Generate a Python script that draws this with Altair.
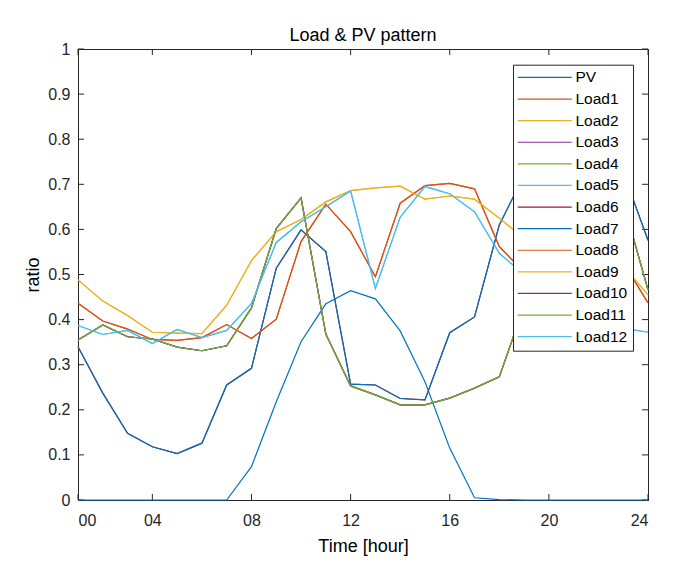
import altair as alt
import pandas as pd

# ---------------- data ----------------
hours = list(range(1, 25))

pv = [0, 0, 0, 0, 0, 0, 0, 0.074, 0.218, 0.351, 0.435, 0.464,
      0.446, 0.375, 0.262, 0.115, 0.005, 0.001, 0, 0, 0, 0, 0, 0]
load1 = [0.436, 0.397, 0.379, 0.356, 0.354, 0.360, 0.389, 0.358, 0.401, 0.573, 0.656, 0.595,
         0.495, 0.658, 0.697, 0.702, 0.690, 0.562, 0.505, 0.515, 0.525, 0.530, 0.527, 0.437]
load2 = [0.488, 0.441, 0.409, 0.372, 0.370, 0.369, 0.432, 0.531, 0.595, 0.622, 0.661, 0.686,
         0.692, 0.696, 0.667, 0.674, 0.667, 0.625, 0.580, 0.555, 0.545, 0.530, 0.519, 0.455]
load3 = [0.355, 0.388, 0.362, 0.357, 0.339, 0.331, 0.342, 0.426, 0.602, 0.670, 0.368, 0.253,
         0.233, 0.211, 0.211, 0.226, 0.248, 0.273, 0.430, 0.560, 0.630, 0.665, 0.661, 0.466]
load4 = [0.355, 0.388, 0.362, 0.357, 0.339, 0.331, 0.342, 0.426, 0.602, 0.670, 0.368, 0.253,
         0.233, 0.211, 0.211, 0.226, 0.248, 0.273, 0.430, 0.560, 0.630, 0.665, 0.661, 0.466]
load5 = [0.387, 0.367, 0.376, 0.347, 0.378, 0.360, 0.376, 0.436, 0.571, 0.617, 0.650, 0.685,
         0.469, 0.627, 0.695, 0.679, 0.639, 0.547, 0.500, 0.460, 0.425, 0.400, 0.381, 0.372]
load6 = [0.340, 0.237, 0.148, 0.118, 0.103, 0.126, 0.255, 0.292, 0.514, 0.599, 0.551, 0.257,
         0.255, 0.225, 0.222, 0.371, 0.406, 0.610, 0.720, 0.750, 0.760, 0.750, 0.727, 0.576]
load7 = [0.340, 0.237, 0.148, 0.118, 0.103, 0.126, 0.255, 0.292, 0.514, 0.599, 0.551, 0.257,
         0.255, 0.225, 0.222, 0.371, 0.406, 0.610, 0.720, 0.750, 0.760, 0.750, 0.727, 0.576]
load8 = [0.436, 0.397, 0.379, 0.356, 0.354, 0.360, 0.389, 0.358, 0.401, 0.573, 0.656, 0.595,
         0.495, 0.658, 0.697, 0.702, 0.690, 0.562, 0.505, 0.515, 0.525, 0.530, 0.527, 0.437]
load9 = [0.488, 0.441, 0.409, 0.372, 0.370, 0.369, 0.432, 0.531, 0.595, 0.622, 0.661, 0.686,
         0.692, 0.696, 0.667, 0.674, 0.667, 0.625, 0.580, 0.555, 0.545, 0.530, 0.519, 0.455]
load10 = [0.355, 0.388, 0.362, 0.357, 0.339, 0.331, 0.342, 0.426, 0.602, 0.670, 0.368, 0.253,
          0.233, 0.211, 0.211, 0.226, 0.248, 0.273, 0.430, 0.560, 0.630, 0.665, 0.661, 0.466]
load11 = [0.355, 0.388, 0.362, 0.357, 0.339, 0.331, 0.342, 0.426, 0.602, 0.670, 0.368, 0.253,
          0.233, 0.211, 0.211, 0.226, 0.248, 0.273, 0.430, 0.560, 0.630, 0.665, 0.661, 0.466]
load12 = [0.387, 0.367, 0.376, 0.347, 0.378, 0.360, 0.376, 0.436, 0.571, 0.617, 0.650, 0.685,
          0.469, 0.627, 0.695, 0.679, 0.639, 0.547, 0.500, 0.460, 0.425, 0.400, 0.381, 0.372]

series_names = ["PV", "Load1", "Load2", "Load3", "Load4", "Load5", "Load6",
                "Load7", "Load8", "Load9", "Load10", "Load11", "Load12"]
series_values = [pv, load1, load2, load3, load4, load5, load6,
                 load7, load8, load9, load10, load11, load12]

x_tick_values = [1, 4, 8, 12, 16, 20, 24]
x_tick_labels = ["00", "04", "08", "12", "16", "20", "24"]
y_tick_values = [0, 0.1, 0.2, 0.3, 0.4, 0.5, 0.6, 0.7, 0.8, 0.9, 1]

# ---------------- styles ----------------
colors = ["#0072BD", "#D95319", "#EDB120", "#7E2F8E", "#77AC30", "#4DBEEE", "#A2142F",
          "#0072BD", "#D95319", "#EDB120", "#7E2F8E", "#77AC30", "#4DBEEE"]
widths = [1.2, 1.2, 1.2, 2.2, 2.0, 1.2, 2.2, 1.8, 1.2, 1.2, 2.0, 1.8, 1.2]

FONT = "Liberation Sans"
W, H = 570, 451
AX = "#262626"

rows = []
for name, vals in zip(series_names, series_values):
    for h, v in zip(hours, vals):
        rows.append({"series": name, "hour": h, "value": v})
df = pd.DataFrame(rows)

label_expr = "''"
for v, lab in zip(reversed(x_tick_values), reversed(x_tick_labels)):
    label_expr = f"datum.value == {v} ? '{lab}' : ({label_expr})"

x_scale = alt.Scale(domain=[1, 24], nice=False, zero=False)
y_scale = alt.Scale(domain=[0, 1], nice=False)

lines = alt.Chart(df).mark_line(clip=False).encode(
    x=alt.X("hour:Q", scale=x_scale,
            axis=alt.Axis(values=x_tick_values, labelExpr=label_expr, ticks=False,
                          labelPadding=12, grid=False, domainColor=AX,
                          title="Time [hour]", titleX=W / 2, titleY=51,
                          titleBaseline="alphabetic")),
    y=alt.Y("value:Q", scale=y_scale,
            axis=alt.Axis(values=y_tick_values, format="~g", ticks=False,
                          labelPadding=8, grid=False, domainColor=AX,
                          title="ratio", titleX=-40, titleY=H / 2,
                          titleBaseline="alphabetic")),
    color=alt.Color("series:N",
                    scale=alt.Scale(domain=series_names, range=colors),
                    legend=alt.Legend(orient="none", legendX=435, legendY=15.7,
                                      title=None, symbolType="M-8,0H46", symbolSize=4,
                                      symbolStrokeWidth=1, labelOffset=41.9,
                                      rowPadding=4.6, padding=5, fillColor="white",
                                      strokeColor=AX, labelFontSize=15.5,
                                      labelFont=FONT, labelColor="#000",
                                      labelBaseline="middle")),
    strokeWidth=alt.StrokeWidth("series:N",
                                scale=alt.Scale(domain=series_names, range=widths),
                                legend=None),
    order=alt.Order("hour:Q"),
)

ydf = pd.DataFrame({"v": y_tick_values})
xdf = pd.DataFrame({"h": x_tick_values})

y_ticks_left = alt.Chart(ydf).mark_rule(color=AX, strokeWidth=1).encode(
    y=alt.Y("v:Q", scale=y_scale), x=alt.value(0), x2=alt.value(6))
y_ticks_right = alt.Chart(ydf).mark_rule(color=AX, strokeWidth=1).encode(
    y=alt.Y("v:Q", scale=y_scale), x=alt.value(W - 6), x2=alt.value(W))
x_ticks_bottom = alt.Chart(xdf).mark_rule(color=AX, strokeWidth=1).encode(
    x=alt.X("h:Q", scale=x_scale), y=alt.value(H - 6), y2=alt.value(H))
x_ticks_top = alt.Chart(xdf).mark_rule(color=AX, strokeWidth=1).encode(
    x=alt.X("h:Q", scale=x_scale), y=alt.value(0), y2=alt.value(6))

chart = alt.layer(y_ticks_left, y_ticks_right, x_ticks_bottom, x_ticks_top, lines).properties(
    width=W, height=H,
    title=alt.Title("Load & PV pattern", fontSize=18, fontWeight="normal", font=FONT,
                    color="#000", offset=8, baseline="alphabetic", anchor="middle",
                    frame="group", dy=26),
    autosize=alt.AutoSizeParams(type="none"),
    padding={"left": 70, "top": 41, "right": 20, "bottom": 58},
    background="white",
).configure_view(
    stroke=AX, strokeWidth=1
).configure_axis(
    labelFont=FONT, labelFontSize=16, labelColor=AX,
    titleFont=FONT, titleFontSize=18, titleFontWeight="normal", titleColor="#000",
    domainWidth=1,
)

chart.save("out.html", embed_options={"renderer": "svg", "actions": False})
